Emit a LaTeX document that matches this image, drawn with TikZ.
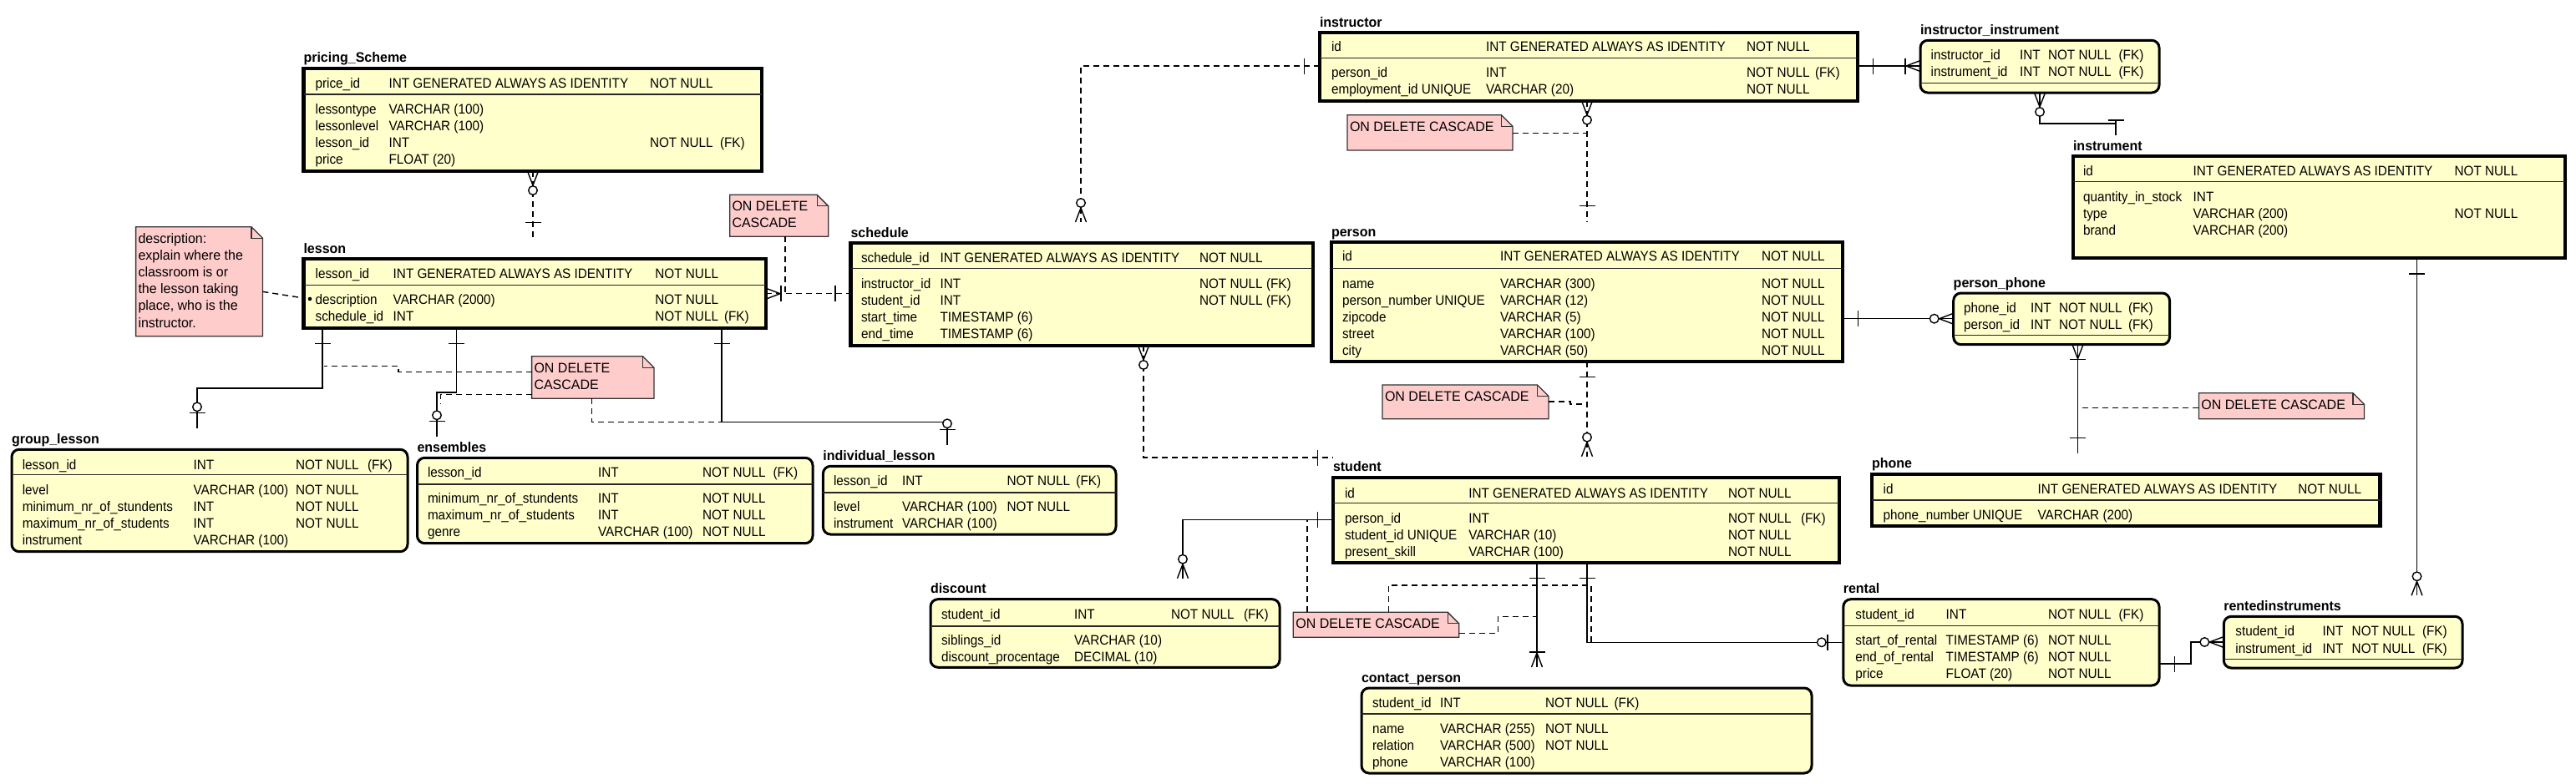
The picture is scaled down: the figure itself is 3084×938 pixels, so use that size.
\documentclass[tikz,border=0pt]{standalone}
\usepackage{fontspec}
\setmainfont{Liberation Sans}
\newfontfamily\erfam[FakeStretch=0.927]{Liberation Sans}
\newfontfamily\erwide[FakeStretch=0.97]{Liberation Sans}
\definecolor{entfill}{HTML}{FFFFCC}
\definecolor{notefill}{HTML}{FFCCCC}
\newcommand\erfont{\erfam\fontsize{16.5}{20}\selectfont}
\newcommand\ertitle{\erwide\bfseries\fontsize{16.5}{20}\selectfont}
\newcommand\ernote{\erwide\fontsize{16.5}{20}\selectfont}
\newcounter{erc}
\newcommand\ercell[3]{\stepcounter{erc}\node[txt] (erc\arabic{erc}) at (#1,#2+6) {#3};}
\newcommand\ercols[4]{\def\erA{#1}\def\erB{#2}\def\erC{#3}\def\erD{#4}}
\newcommand\erow[5]{\ercell{\erA}{#1}{#2}\ercell{\erB}{#1}{#3}\ercell{\erC}{#1}{#4}\ercell{\erD}{#1}{#5}}
\newcommand\erent[8]{%
  \node[#2, minimum width=#5pt, minimum height=#6pt] (#1) at (#3,#4) {};
  \node[ttl] (#1-t) at (#3,#4-7) {#7};
  \coordinate (#1-top) at ([yshift=25pt]#1.north);
  \draw[sepl] (#1.west |- 0,#8) -- (#1.east |- 0,#8);}
\newcommand\ernotebox[5]{%
  \node[nbox, minimum width=#4pt, minimum height=#5pt] (#1) at (#2,#3) {};
  \draw[nline] (#1.north west) -- ([xshift=-13.5pt]#1.north east) -- ([yshift=-13.5pt]#1.north east) -- (#1.south east) -- (#1.south west) -- cycle;
  \draw[nline, fill=none] ([xshift=-13.5pt]#1.north east) -- ([xshift=-13.5pt,yshift=-13.5pt]#1.north east) -- ([yshift=-13.5pt]#1.north east);}
\newcommand\ernt[3]{\stepcounter{erc}\node[ntxt] (ern\arabic{erc}) at (#1,#2) {#3};}
\newcommand\mkfork{\draw[mk] (0,-6.5) -- (17,0) -- (0,6.5);}
\newcommand\mkone[2]{\begin{scope}[shift={(#1)},rotate=#2]\draw[mk] (18.5,-9.5) -- (18.5,9.5);\end{scope}}
\newcommand\mkzmany[2]{\begin{scope}[shift={(#1)},rotate=#2]\mkfork\draw[mk,fill=white] (23,0) circle[radius=5.3];\end{scope}}
\newcommand\mkonemany[2]{\begin{scope}[shift={(#1)},rotate=#2]\mkfork\draw[mk] (18,-9.5) -- (18,9.5);\end{scope}}
\newcommand\mkzone[2]{\begin{scope}[shift={(#1)},rotate=#2]\draw[mk] (19,-9.5) -- (19,9.5);\draw[mk,fill=white] (26,0) circle[radius=5.3];\end{scope}}

\begin{document}
\begin{tikzpicture}[x=1pt,y=-1pt,
  ent/.style={draw=black, line width=4.3pt, fill=entfill, inner sep=0pt, outer sep=0pt, anchor=north west},
  dep/.style={ent, line width=3pt, rounded corners=9pt},
  sepl/.style={line width=1.5pt, draw=black!85},
  txt/.style={anchor=base west, inner sep=0pt, outer sep=0pt, font=\erfont},
  ttl/.style={anchor=base west, inner sep=0pt, outer sep=0pt, font=\ertitle},
  ntxt/.style={anchor=base west, inner sep=0pt, outer sep=0pt, font=\ernote},
  conn/.style={line width=1.4pt, draw=black},
  dconn/.style={conn, dash pattern=on 7pt off 5pt},
  mk/.style={line width=1.4pt, draw=black, solid},
  nbox/.style={inner sep=0pt, outer sep=0pt, anchor=north west},
  nline/.style={draw=black!80, line width=1.3pt, fill=notefill},
]
\useasboundingbox (0,0) rectangle (3084,938);
\fill[white] (0,0) rectangle (3084,938);

% ---------------- entities ----------------
\erent{pricing}{ent}{363.5}{81.7}{548.5}{123.3}{pricing\_Scheme}{113}
\ercols{377.6}{465.6}{778}{862}
\erow{99.3}{price\_id}{INT GENERATED ALWAYS AS IDENTITY}{NOT NULL}{}
\erow{130}{lessontype}{VARCHAR (100)}{}{}
\erow{150}{lessonlevel}{VARCHAR (100)}{}{}
\erow{170}{lesson\_id}{INT}{NOT NULL}{(FK)}
\erow{190}{price}{FLOAT (20)}{}{}

\erent{lesson}{ent}{363.5}{310}{553.5}{82.7}{lesson}{341.7}
\ercols{377.6}{470.7}{784.4}{867}
\erow{327.7}{lesson\_id}{INT GENERATED ALWAYS AS IDENTITY}{NOT NULL}{}
\erow{358}{description}{VARCHAR (2000)}{NOT NULL}{}
\erow{378}{schedule\_id}{INT}{NOT NULL}{(FK)}
\fill (371,358) circle[radius=2.3];

\erent{schedule}{ent}{1018.5}{291}{553.5}{123}{schedule}{321.7}
\ercols{1031}{1125.5}{1436}{1516}
\erow{308.3}{schedule\_id}{INT GENERATED ALWAYS AS IDENTITY}{NOT NULL}{}
\erow{339}{instructor\_id}{INT}{NOT NULL}{(FK)}
\erow{359}{student\_id}{INT}{NOT NULL}{(FK)}
\erow{379}{start\_time}{TIMESTAMP (6)}{}{}
\erow{399}{end\_time}{TIMESTAMP (6)}{}{}

\erent{instructor}{ent}{1580}{39}{644}{81.7}{instructor}{69.3}
\ercols{1594}{1779}{2091}{2173}
\erow{55}{id}{INT GENERATED ALWAYS AS IDENTITY}{NOT NULL}{}
\erow{86.7}{person\_id}{INT}{NOT NULL}{(FK)}
\erow{106.7}{employment\_id UNIQUE}{VARCHAR (20)}{NOT NULL}{}

\erent{ii}{dep}{2299}{48.3}{286}{62.7}{instructor\_instrument}{99.3}
\ercols{2311.6}{2418}{2452}{2536.6}
\erow{65.7}{instructor\_id}{INT}{NOT NULL}{(FK)}
\erow{85.7}{instrument\_id}{INT}{NOT NULL}{(FK)}

\erent{instrument}{ent}{2482}{187.3}{589}{122}{instrument}{217.7}
\ercols{2494}{2625.7}{2938.6}{0}
\erow{204}{id}{INT GENERATED ALWAYS AS IDENTITY}{NOT NULL}{}
\erow{235}{quantity\_in\_stock}{INT}{}{}
\erow{255}{type}{VARCHAR (200)}{NOT NULL}{}
\erow{275}{brand}{VARCHAR (200)}{}{}

\erent{person}{ent}{1594}{290}{612}{142.7}{person}{321.7}
\ercols{1607}{1796}{2109}{0}
\erow{306.7}{id}{INT GENERATED ALWAYS AS IDENTITY}{NOT NULL}{}
\erow{339}{name}{VARCHAR (300)}{NOT NULL}{}
\erow{359}{person\_number UNIQUE}{VARCHAR (12)}{NOT NULL}{}
\erow{379}{zipcode}{VARCHAR (5)}{NOT NULL}{}
\erow{399}{street}{VARCHAR (100)}{NOT NULL}{}
\erow{419}{city}{VARCHAR (50)}{NOT NULL}{}

\erent{pp}{dep}{2338.7}{351}{258.8}{61.7}{person\_phone}{401.7}
\ercols{2351}{2431}{2465}{2548}
\erow{368.3}{phone\_id}{INT}{NOT NULL}{(FK)}
\erow{388.3}{person\_id}{INT}{NOT NULL}{(FK)}

\erent{phone}{ent}{2241}{567.7}{608.5}{62.3}{phone}{599}
\ercols{2254.7}{2439.6}{2751.4}{0}
\erow{585.7}{id}{INT GENERATED ALWAYS AS IDENTITY}{NOT NULL}{}
\erow{616}{phone\_number UNIQUE}{VARCHAR (200)}{}{}

\erent{student}{ent}{1596}{571.7}{606}{102.3}{student}{602.3}
\ercols{1610}{1758.3}{2069}{2156}
\erow{590}{id}{INT GENERATED ALWAYS AS IDENTITY}{NOT NULL}{}
\erow{620}{person\_id}{INT}{NOT NULL}{(FK)}
\erow{640.3}{student\_id UNIQUE}{VARCHAR (10)}{NOT NULL}{}
\erow{660.5}{present\_skill}{VARCHAR (100)}{NOT NULL}{}

\erent{gl}{dep}{14}{538.3}{474}{122.4}{group\_lesson}{568.3}
\ercols{26.8}{231.6}{354}{440}
\erow{556.7}{lesson\_id}{INT}{NOT NULL}{(FK)}
\erow{586.7}{level}{VARCHAR (100)}{NOT NULL}{}
\erow{606.7}{minimum\_nr\_of\_stundents}{INT}{NOT NULL}{}
\erow{626.7}{maximum\_nr\_of\_students}{INT}{NOT NULL}{}
\erow{646.7}{instrument}{VARCHAR (100)}{}{}

\erent{ens}{dep}{499.5}{548.3}{473.5}{102.4}{ensembles}{580}
\ercols{512}{716}{841}{925.5}
\erow{565.7}{lesson\_id}{INT}{NOT NULL}{(FK)}
\erow{596.7}{minimum\_nr\_of\_stundents}{INT}{NOT NULL}{}
\erow{616.7}{maximum\_nr\_of\_students}{INT}{NOT NULL}{}
\erow{636.7}{genre}{VARCHAR (100)}{NOT NULL}{}

\erent{ind}{dep}{985.4}{558.3}{350.6}{81.7}{individual\_lesson}{590}
\ercols{998}{1080}{1205.5}{1288.4}
\erow{575.7}{lesson\_id}{INT}{NOT NULL}{(FK)}
\erow{606.7}{level}{VARCHAR (100)}{NOT NULL}{}
\erow{626.7}{instrument}{VARCHAR (100)}{}{}

\erent{discount}{dep}{1114}{717.7}{418}{81.6}{discount}{750}
\ercols{1127}{1286}{1402}{1489}
\erow{735.7}{student\_id}{INT}{NOT NULL}{(FK)}
\erow{766.7}{siblings\_id}{VARCHAR (10)}{}{}
\erow{786.7}{discount\_procentage}{DECIMAL (10)}{}{}

\erent{contact}{dep}{1630}{824}{539}{102}{contact\_person}{855}
\ercols{1643}{1724}{1850}{1932.6}
\erow{841.7}{student\_id}{INT}{NOT NULL}{(FK)}
\erow{872.3}{name}{VARCHAR (255)}{NOT NULL}{}
\erow{892.3}{relation}{VARCHAR (500)}{NOT NULL}{}
\erow{912.3}{phone}{VARCHAR (100)}{}{}

\erent{rental}{dep}{2206.8}{717.7}{378.2}{103.3}{rental}{749.3}
\ercols{2221.4}{2329.7}{2452}{2536.6}
\erow{735.7}{student\_id}{INT}{NOT NULL}{(FK)}
\erow{766}{start\_of\_rental}{TIMESTAMP (6)}{NOT NULL}{}
\erow{786.7}{end\_of\_rental}{TIMESTAMP (6)}{NOT NULL}{}
\erow{806.7}{price}{FLOAT (20)}{NOT NULL}{}

\erent{ri}{dep}{2662.3}{738.3}{285.7}{61.7}{rentedinstruments}{789.3}
\ercols{2676.4}{2780.7}{2815.7}{2900}
\erow{755}{student\_id}{INT}{NOT NULL}{(FK)}
\erow{776}{instrument\_id}{INT}{NOT NULL}{(FK)}

% ---------------- notes ----------------
\ernotebox{N1}{162.6}{271.7}{151.8}{131}
\ernt{165.5}{291}{description:}
\ernt{165.5}{311.2}{explain where the}
\ernt{165.5}{331.4}{classroom is or}
\ernt{165.5}{351.6}{the lesson taking}
\ernt{165.5}{371.8}{place, who is the}
\ernt{165.5}{392}{instructor.}
\ernotebox{N2}{873.7}{233.3}{118}{50}
\ernt{876.5}{252.3}{ON DELETE}
\ernt{876.5}{272.3}{CASCADE}
\ernotebox{N3}{636.6}{426.7}{146.4}{50.6}
\ernt{639.5}{446}{ON DELETE}
\ernt{639.5}{466}{CASCADE}
\ernotebox{N4}{1613}{137.7}{198}{42.3}
\ernt{1616}{157}{ON DELETE CASCADE}
\ernotebox{N5}{1655}{461}{199}{40.7}
\ernt{1658}{480}{ON DELETE CASCADE}
\ernotebox{N6}{2632.4}{470.7}{198}{31}
\ernt{2635.4}{490}{ON DELETE CASCADE}
\ernotebox{N7}{1548.3}{733.3}{198.4}{30}
\ernt{1551.3}{752.3}{ON DELETE CASCADE}

% ---------------- connector end points ----------------
\coordinate (c1a) at (pricing.south -| 638,0);
\coordinate (c1b) at (lesson-top -| 638,0);
\coordinate (c3a) at (lesson.east |- 0,351.7);
\coordinate (c3b) at (schedule.west |- 0,351.7);
\coordinate (c5a) at (lesson.south -| 386,0);
\coordinate (c5b) at (gl-top -| 236,0);
\coordinate (c6a) at (lesson.south -| 546.6,0);
\coordinate (c6b) at (ens-top -| 523,0);
\coordinate (c7a) at (lesson.south -| 864,0);
\coordinate (c7b) at (ind-top -| 1134,0);
\coordinate (c9a) at (instructor.west |- 0,79);
\coordinate (c9b) at (schedule-top -| 1294,0);
\coordinate (c10a) at (schedule.south -| 1369,0);
\coordinate (c10b) at (student.west |- 0,548);
\coordinate (c11a) at (instructor.south -| 1900,0);
\coordinate (c11b) at (person-top -| 1900,0);
\coordinate (c13a) at (instructor.east |- 0,79);
\coordinate (c13b) at (ii.west |- 0,79);
\coordinate (c14a) at (ii.south -| 2442,0);
\coordinate (c14b) at (instrument-top -| 2533,0);
\coordinate (c15a) at (person.east |- 0,381.7);
\coordinate (c15b) at (pp.west |- 0,381.7);
\coordinate (c16a) at (pp.south -| 2487.5,0);
\coordinate (c16b) at (phone-top -| 2487.5,0);
\coordinate (c18a) at (person.south -| 1900,0);
\coordinate (c18b) at (student-top -| 1900,0);
\coordinate (c20a) at (student.west |- 0,622.3);
\coordinate (c20b) at (discount-top -| 1416,0);
\coordinate (c21a) at (student.south -| 1840,0);
\coordinate (c21b) at (contact-top -| 1840,0);
\coordinate (c22a) at (student.south -| 1900,0);
\coordinate (c22b) at (rental.west |- 0,769.3);
\coordinate (c24a) at (rental.east |- 0,795);
\coordinate (c24b) at (ri.west |- 0,769);
\coordinate (c25a) at (instrument.south -| 2893.5,0);
\coordinate (c25b) at (ri-top -| 2893.5,0);

% ---------------- connectors ----------------
\draw[dconn] (c1a) -- (c1b);
\draw[dconn] (c3a) -- (c3b);
\draw[conn] (c5a) -- (386,465) -- (236,465) -- (c5b);
\draw[conn] (c6a) -- (546.6,470) -- (523,470) -- (c6b);
\draw[conn] (c7a) -- (864,505.7) -- (1134,505.7) -- (c7b);
\draw[dconn] (c9a) -- (1294,79) -- (c9b);
\draw[dconn] (c10a) -- (1369,548) -- (c10b);
\draw[dconn] (c11a) -- (c11b);
\draw[conn] (c13a) -- (c13b);
\draw[conn] (c14a) -- (2442,148) -- (2533,148) -- (c14b);
\draw[conn] (2533,143.2) -- (2533,148);
\draw[conn] (c15a) -- (c15b);
\draw[conn] (c16a) -- (c16b);
\draw[dconn] (c18a) -- (c18b);
\draw[conn] (c20a) -- (1416,622.3) -- (c20b);
\draw[conn] (c21a) -- (c21b);
\draw[conn] (c22a) -- (1900,769.3) -- (c22b);
\draw[conn] (c24a) -- (2623,795) -- (2623,769) -- (c24b);
\draw[conn] (c25a) -- (c25b);

% note links
\draw[dconn] (N1.east |- 0,349.3) -- (lesson.west |- 0,357);
\draw[dconn] (N2.south -| 940,0) -- (940,351.7);
\draw[dconn] (N3.west |- 0,445.7) -- (477,445.7) -- (477,438.3) -- (388,438.3);
\draw[dconn] (N3.west |- 0,472.3) -- (527.5,472.3) -- (527.5,484);
\draw[dconn] (N3.south -| 708.7,0) -- (708.7,505.7) -- (968,505.7);
\draw[dconn] (N4.east |- 0,159.3) -- (1900,159.3);
\draw[dconn] (N5.east |- 0,481) -- (1880,481) -- (1880,484) -- (1900,484);
\draw[dconn] (N6.west |- 0,488.3) -- (2488.5,488.3);
\draw[dconn] (N7.north -| 1565,0) -- (1565,622.3);
\draw[dconn] (N7.north -| 1662.3,0) -- (1662.3,701) -- (1905,701) -- (1905,769.3);
\draw[dconn] (N7.east |- 0,758.3) -- (1793.3,758.3) -- (1793.3,738.3) -- (1840,738.3);

% ---------------- cardinality marks ----------------
\mkzmany{c1a}{-90} \mkone{c1b}{90}
\mkonemany{c3a}{0} \mkone{c3b}{180}
\mkone{c5a}{-90} \mkzone{c5b}{90}
\mkone{c6a}{-90} \mkzone{c6b}{90}
\mkone{c7a}{-90} \mkzone{c7b}{90}
\mkone{c9a}{180} \mkzmany{c9b}{90}
\mkzmany{c10a}{-90} \mkone{c10b}{180}
\mkzmany{c11a}{-90} \mkone{c11b}{90}
\mkone{c13a}{0} \mkonemany{c13b}{180}
\mkzmany{c14a}{-90} \mkone{c14b}{90}
\mkone{c15a}{0} \mkzmany{c15b}{180}
\mkonemany{c16a}{-90} \mkone{c16b}{90}
\mkone{c18a}{-90} \mkzmany{c18b}{90}
\mkone{c20a}{180} \mkzmany{c20b}{90}
\mkone{c21a}{-90} \mkonemany{c21b}{90}
\mkone{c22a}{-90} \mkzone{c22b}{180}
\mkone{c24a}{0} \mkzmany{c24b}{180}
\mkone{c25a}{-90} \mkzmany{c25b}{90}
\end{tikzpicture}
\end{document}
